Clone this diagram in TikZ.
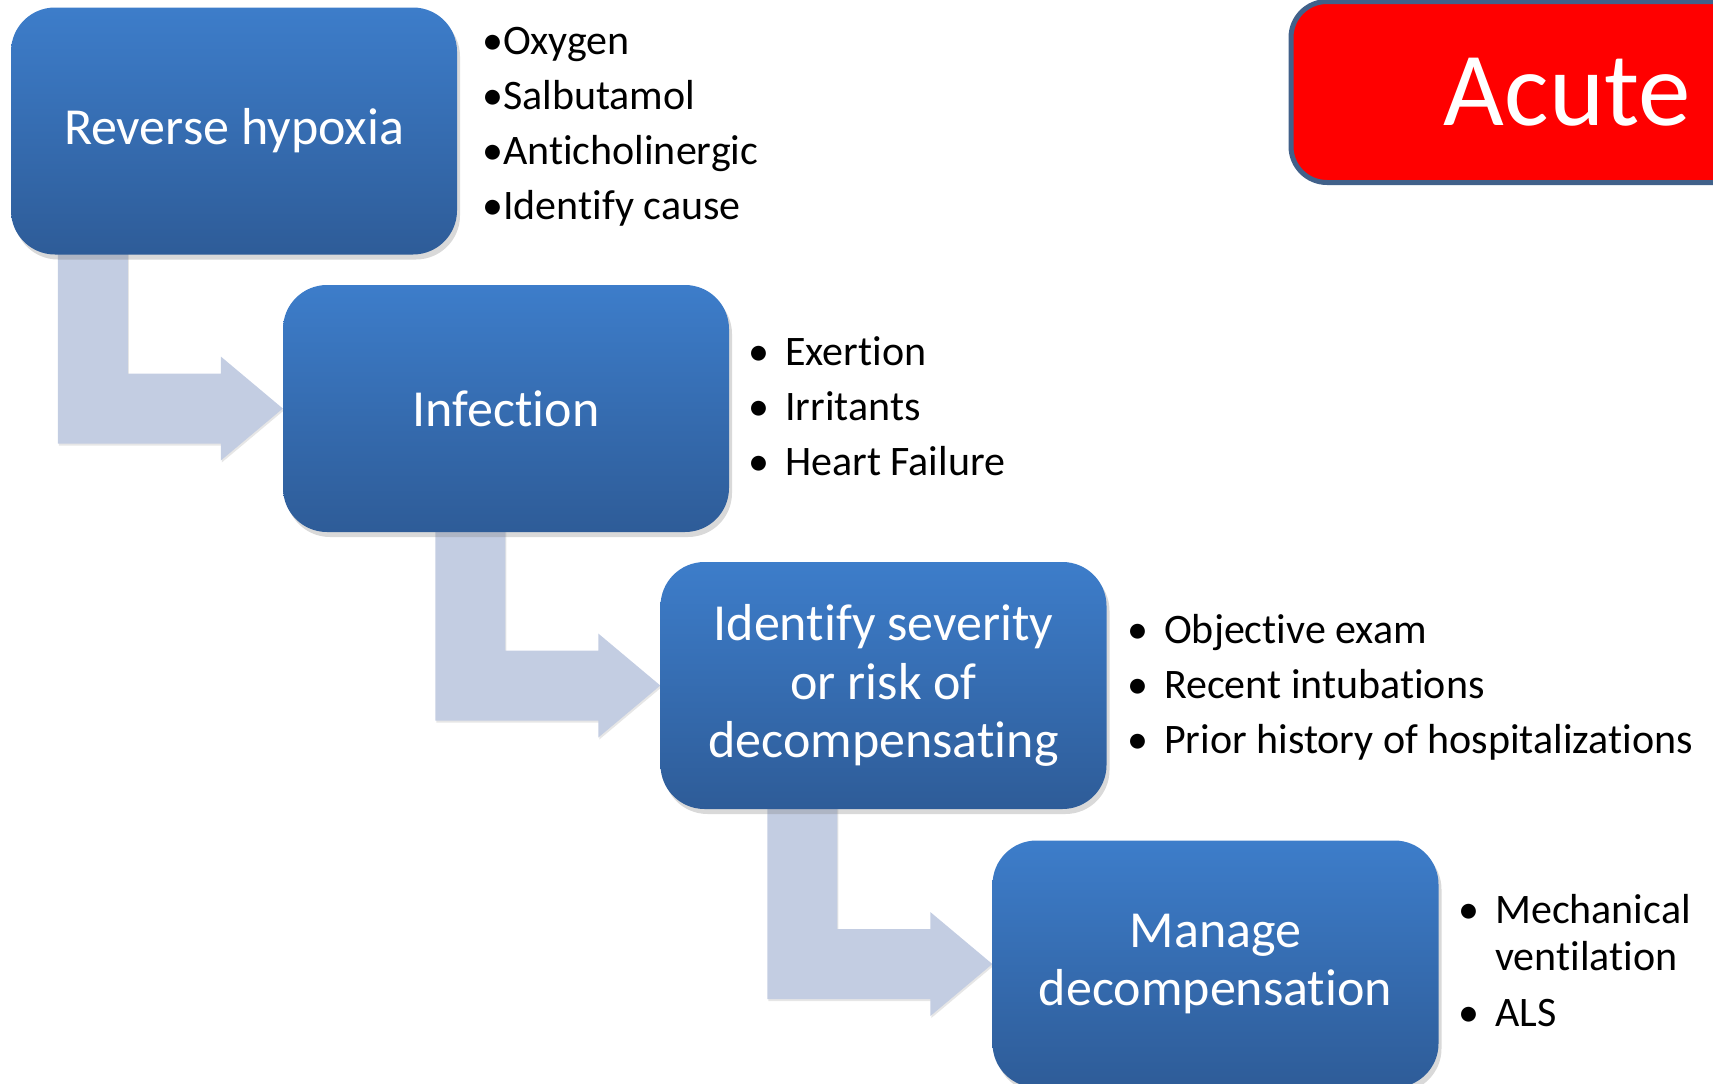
\documentclass[tikz,border=0pt]{standalone}
\usepackage{fontspec}
\setmainfont{Carlito}[Ligatures=NoCommon]
\usetikzlibrary{shadows,backgrounds}

\definecolor{boxtop}{HTML}{3D7DCA}
\definecolor{boxbot}{HTML}{2E5C98}
\definecolor{bentgray}{HTML}{C3CDE2}
\definecolor{acuteline}{HTML}{41618A}

\newcommand{\bul}{\makebox[37pt][l]{\textbullet}}

\tikzset{
    stepbox/.style={rectangle, rounded corners=44pt, minimum width=446pt, minimum height=247pt,
        top color=boxtop, bottom color=boxbot, text=white, align=center, inner sep=0pt,
        font=\fontsize{52}{58.5}\selectfont,
        drop shadow={shadow xshift=3pt, shadow yshift=-5pt, opacity=0.3}},
    bent/.style={fill=bentgray, drop shadow={shadow xshift=1pt, shadow yshift=-2pt, opacity=0.2}},
    notes/.style={anchor=west, align=left, inner sep=0pt, font=\fontsize{42}{47}\selectfont},
    acutebox/.style={rectangle, rounded corners=36pt, minimum width=512pt, minimum height=181pt,
        fill=red, draw=acuteline, line width=5pt, text=white, inner sep=0pt,
        text width=287pt, align=right, font=\fontsize{105}{110}\selectfont}
}

\begin{document}
\begin{tikzpicture}[x=1pt, y=-1pt]
        \useasboundingbox (0, 0) rectangle (1713, 1084);
        \clip (0, 0) rectangle (1713, 1084);

        \node[stepbox] (rh) at (234, 131) {Reverse hypoxia};
        \node[stepbox] (inf) at (506, 408.5) {Infection};
        \node[stepbox] (sev) at (883.5, 685.5) {Identify severity\\or risk of\\decompensating};
        \node[stepbox] (man) at (1215.5, 964) {Manage\\decompensation};

        \node[notes] (rhlist) at (482, 126.5) {\textbullet Oxygen\\[8pt]\textbullet Salbutamol\\[8pt]\textbullet Anticholinergic\\[8pt]\textbullet Identify cause};
        \node[notes] (inflist) at (748, 406) {\bul Exertion\\[8pt]\bul Irritants\\[8pt]\bul Heart Failure};
        \node[notes] (sevlist) at (1127, 687) {\bul Objective exam\\[8pt]\bul Recent intubations\\[8pt]\bul Prior history of hospitalizations};
        \node[notes] (manlist) at (1458, 961) {\bul Mechanical\\\hspace*{37pt}ventilation\\[9pt]\bul ALS};

        \node[acutebox] (acute) at (1547, 92) {Acute};

        \begin{scope}[on background layer]
            \fill[bent] (inf.west) -- ++(-62, 52) -- ++(0, -17) -- ++(-163, 0) -- ++(0, -210)
                -- ++(70, 0) -- ++(0, 140) -- ++(93, 0) -- ++(0, -17) -- cycle;
            \fill[bent] (sev.west) -- ++(-62, 52) -- ++(0, -17) -- ++(-163, 0) -- ++(0, -210)
                -- ++(70, 0) -- ++(0, 140) -- ++(93, 0) -- ++(0, -17) -- cycle;
            \fill[bent] (man.west) -- ++(-62, 52) -- ++(0, -17) -- ++(-163, 0) -- ++(0, -210)
                -- ++(70, 0) -- ++(0, 140) -- ++(93, 0) -- ++(0, -17) -- cycle;
        \end{scope}
    \end{tikzpicture}
\end{document}
